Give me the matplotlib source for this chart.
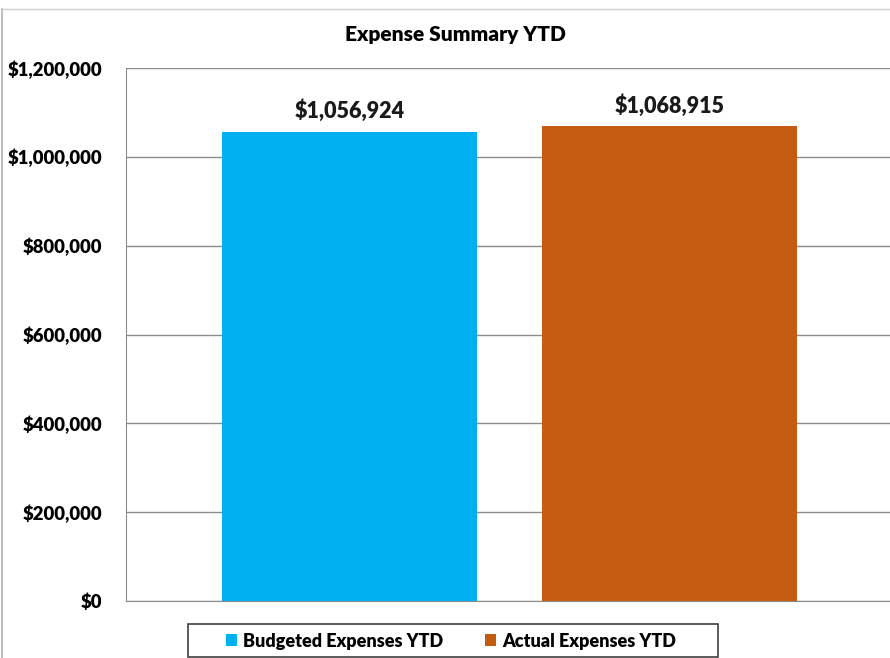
import matplotlib.pyplot as plt
from matplotlib.lines import Line2D
from matplotlib.patches import Rectangle
from matplotlib.ticker import FuncFormatter

categories = ["Budgeted Expenses YTD", "Actual Expenses YTD"]
values = [1056924, 1068915]
colors = ["#00B0F0", "#C55A11"]
yticks = [0, 200000, 400000, 600000, 800000, 1000000, 1200000]

plt.rcParams['font.family'] = ['Lato', 'DejaVu Sans']

fig = plt.figure(figsize=(8.9, 6.58), dpi=100)
ax = fig.add_axes([126/890, 1 - 601/658, 1 - 126/890, (601 - 68)/658])

x = range(len(values))
bars = ax.bar(x, values, width=0.797, color=colors, zorder=3)
bars[0].set_label(categories[0])
bars[1].set_label(categories[1])

for xi, v in zip(x, values):
    ax.text(xi, v + 22000, "${:,.0f}".format(v), ha='center', va='bottom',
            fontsize=15.5, fontweight='heavy', color='#1a1a1a')

ax.set_ylim(0, 1200000)
ax.set_xlim(-0.698, 1.689)
ax.set_yticks(yticks)
ax.yaxis.set_major_formatter(FuncFormatter(lambda v, p: "${:,.0f}".format(v)))
ax.set_xticks([])
ax.tick_params(axis='y', length=0, pad=17, labelsize=13.3)
for lab in ax.get_yticklabels():
    lab.set_fontweight('heavy')
ax.grid(axis='y', color='#8c8c8c', linewidth=1, zorder=0)
ax.spines['top'].set_visible(False)
ax.spines['right'].set_visible(False)
ax.spines['left'].set_color('#8c8c8c')
ax.spines['bottom'].set_color('#8c8c8c')

fig.text(455/890, 1 - 35/658, "Expense Summary YTD", ha='center', va='center',
         fontsize=15, fontweight='heavy')

# outer chart border (cropped)
fig.add_artist(Line2D([2/890, 2/890], [0, 1 - 9/658], transform=fig.transFigure,
                      color='#b0b0b0', linewidth=1.2))
fig.add_artist(Line2D([2/890, 1], [1 - 9/658, 1 - 9/658], transform=fig.transFigure,
                      color='#d0d0d0', linewidth=1))

# legend box
fig.add_artist(Rectangle((188/890, 1 - 657/658), 530/890, 33/658,
                         transform=fig.transFigure, fill=False,
                         edgecolor='#404040', linewidth=1.2))

leg = fig.legend(handles=[bars[0], bars[1]], loc='center',
                 bbox_to_anchor=(451/890, 1 - 641/658), ncol=2, frameon=False,
                 handlelength=0.6, handleheight=0.6, handletextpad=0.35,
                 columnspacing=2.3, prop={'weight': 'heavy', 'size': 13})

fig.savefig("out.png", dpi=100)
